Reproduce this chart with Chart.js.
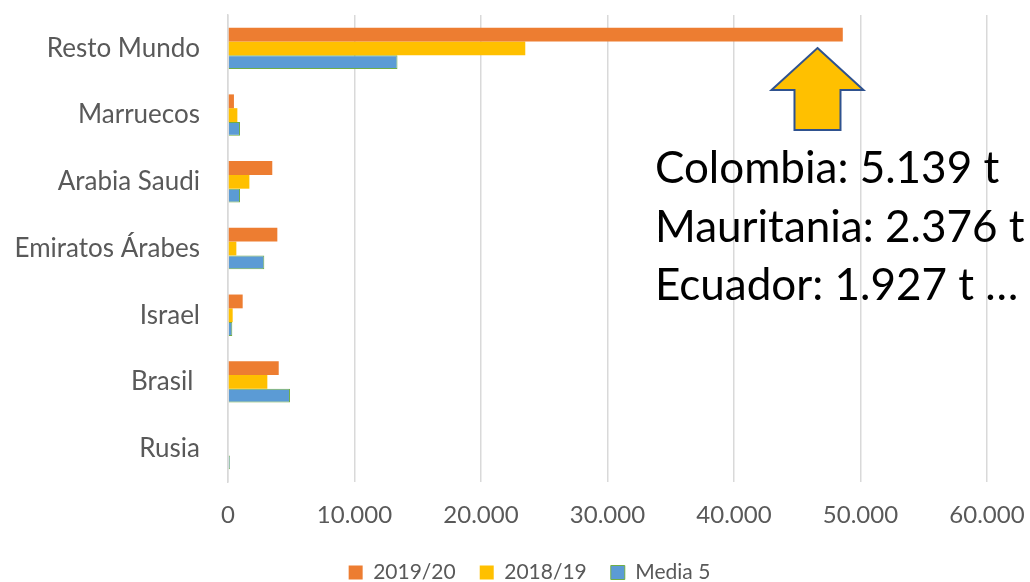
<!DOCTYPE html>
<html>
<head>
<meta charset="utf-8">
<script src="https://cdn.jsdelivr.net/npm/chart.js@4/dist/chart.umd.min.js"></script>
<style>
  html, body { margin: 0; padding: 0; background: #fff; }
  #wrap { width: 1030px; height: 582px; }
</style>
</head>
<body>
<div id="wrap"><canvas id="chart" width="1030" height="582"></canvas></div>
<script>
// datos
const paises = ['Resto Mundo', 'Marruecos', 'Arabia Saudi', 'Emiratos Árabes', 'Israel', 'Brasil ', 'Rusia'];
const campania1920 = [48600, 470, 3500, 3900, 1160, 4010, 0];
const campania1819 = [23500, 740, 1690, 660, 370, 3110, 0];
const media5 = [13400, 950, 950, 2870, 340, 4900, 150];
const ticksX = [0, 10000, 20000, 30000, 40000, 50000, 60000];
const notas = ['Colombia: 5.139 t', 'Mauritania: 2.376 t', 'Ecuador: 1.927 t …'];

const gris = '#595959';

// flecha y texto de la derecha
const notaPlugin = {
  id: 'nota',
  afterLayout(chart) {
    // la leyenda va algo desplazada a la derecha
    chart.legend.left += 36;
    chart.legend.right += 36;
  },
  afterDraw(chart) {
    const ctx = chart.ctx;
    const x = chart.scales.x;
    const top = chart.chartArea.top;
    const cx = x.getPixelForValue(46600);
    ctx.save();
    ctx.beginPath();
    ctx.moveTo(cx, top + 33);
    ctx.lineTo(cx + 46, top + 75);
    ctx.lineTo(cx + 23, top + 75);
    ctx.lineTo(cx + 23, top + 115);
    ctx.lineTo(cx - 23, top + 115);
    ctx.lineTo(cx - 23, top + 75);
    ctx.lineTo(cx - 46, top + 75);
    ctx.closePath();
    ctx.fillStyle = '#FFC000';
    ctx.fill();
    ctx.lineWidth = 2;
    ctx.strokeStyle = '#2F528F';
    ctx.stroke();

    ctx.fillStyle = '#000';
    ctx.font = '44px Lato';
    ctx.textBaseline = 'alphabetic';
    const tx = x.getPixelForValue(33750);
    notas.forEach((t, i) => {
      ctx.fillText(t, tx, top + 168 + i * 58.5);
    });
    ctx.restore();
  }
};

new Chart(document.getElementById('chart'), {
  type: 'bar',
  data: {
    labels: paises,
    datasets: [
      {
        label: '2019/20',
        data: campania1920,
        backgroundColor: '#ED7D31',
        borderWidth: 0
      },
      {
        label: '2018/19',
        data: campania1819,
        backgroundColor: '#FFC000',
        borderWidth: 0
      },
      {
        label: 'Media 5',
        data: media5,
        backgroundColor: '#5B9BD5',
        borderColor: '#70AD47',
        borderWidth: 1
      }
    ]
  },
  options: {
    indexAxis: 'y',
    responsive: false,
    animation: false,
    devicePixelRatio: 1,
    layout: { padding: { top: 15, right: 43, bottom: 0, left: 0 } },
    categoryPercentage: 0.62,
    barPercentage: 1,
    plugins: {
      tooltip: { enabled: false },
      legend: {
        position: 'bottom',
        maxHeight: 44,
        labels: {
          color: gris,
          font: { family: 'Lato', size: 21 },
          boxWidth: 14,
          boxHeight: 14,
          padding: 24
        }
      }
    },
    scales: {
      x: {
        min: 0,
        max: 60000,
        afterBuildTicks(scale) {
          scale.ticks = ticksX.map(v => ({ value: v }));
        },
        afterFit(scale) {
          scale.height = 56;
          scale.paddingLeft = 0;
          scale.paddingRight = 0;
        },
        grid: { color: '#D9D9D9', lineWidth: 1.5, drawTicks: false },
        border: { display: false },
        ticks: {
          color: gris,
          font: { family: 'Lato', size: 24 },
          padding: 19,
          maxRotation: 0,
          callback: v => v.toLocaleString('de-DE')
        }
      },
      y: {
        afterFit(scale) {
          scale.width = 228;
          scale.paddingTop = 0;
          scale.paddingBottom = 0;
        },
        grid: { display: false, drawTicks: false, tickLength: 0 },
        border: { display: true, color: '#D9D9D9', width: 1.5 },
        ticks: {
          color: gris,
          font: { family: 'Lato', size: 26 },
          padding: 28
        }
      }
    }
  },
  plugins: [notaPlugin]
});
</script>
</body>
</html>
